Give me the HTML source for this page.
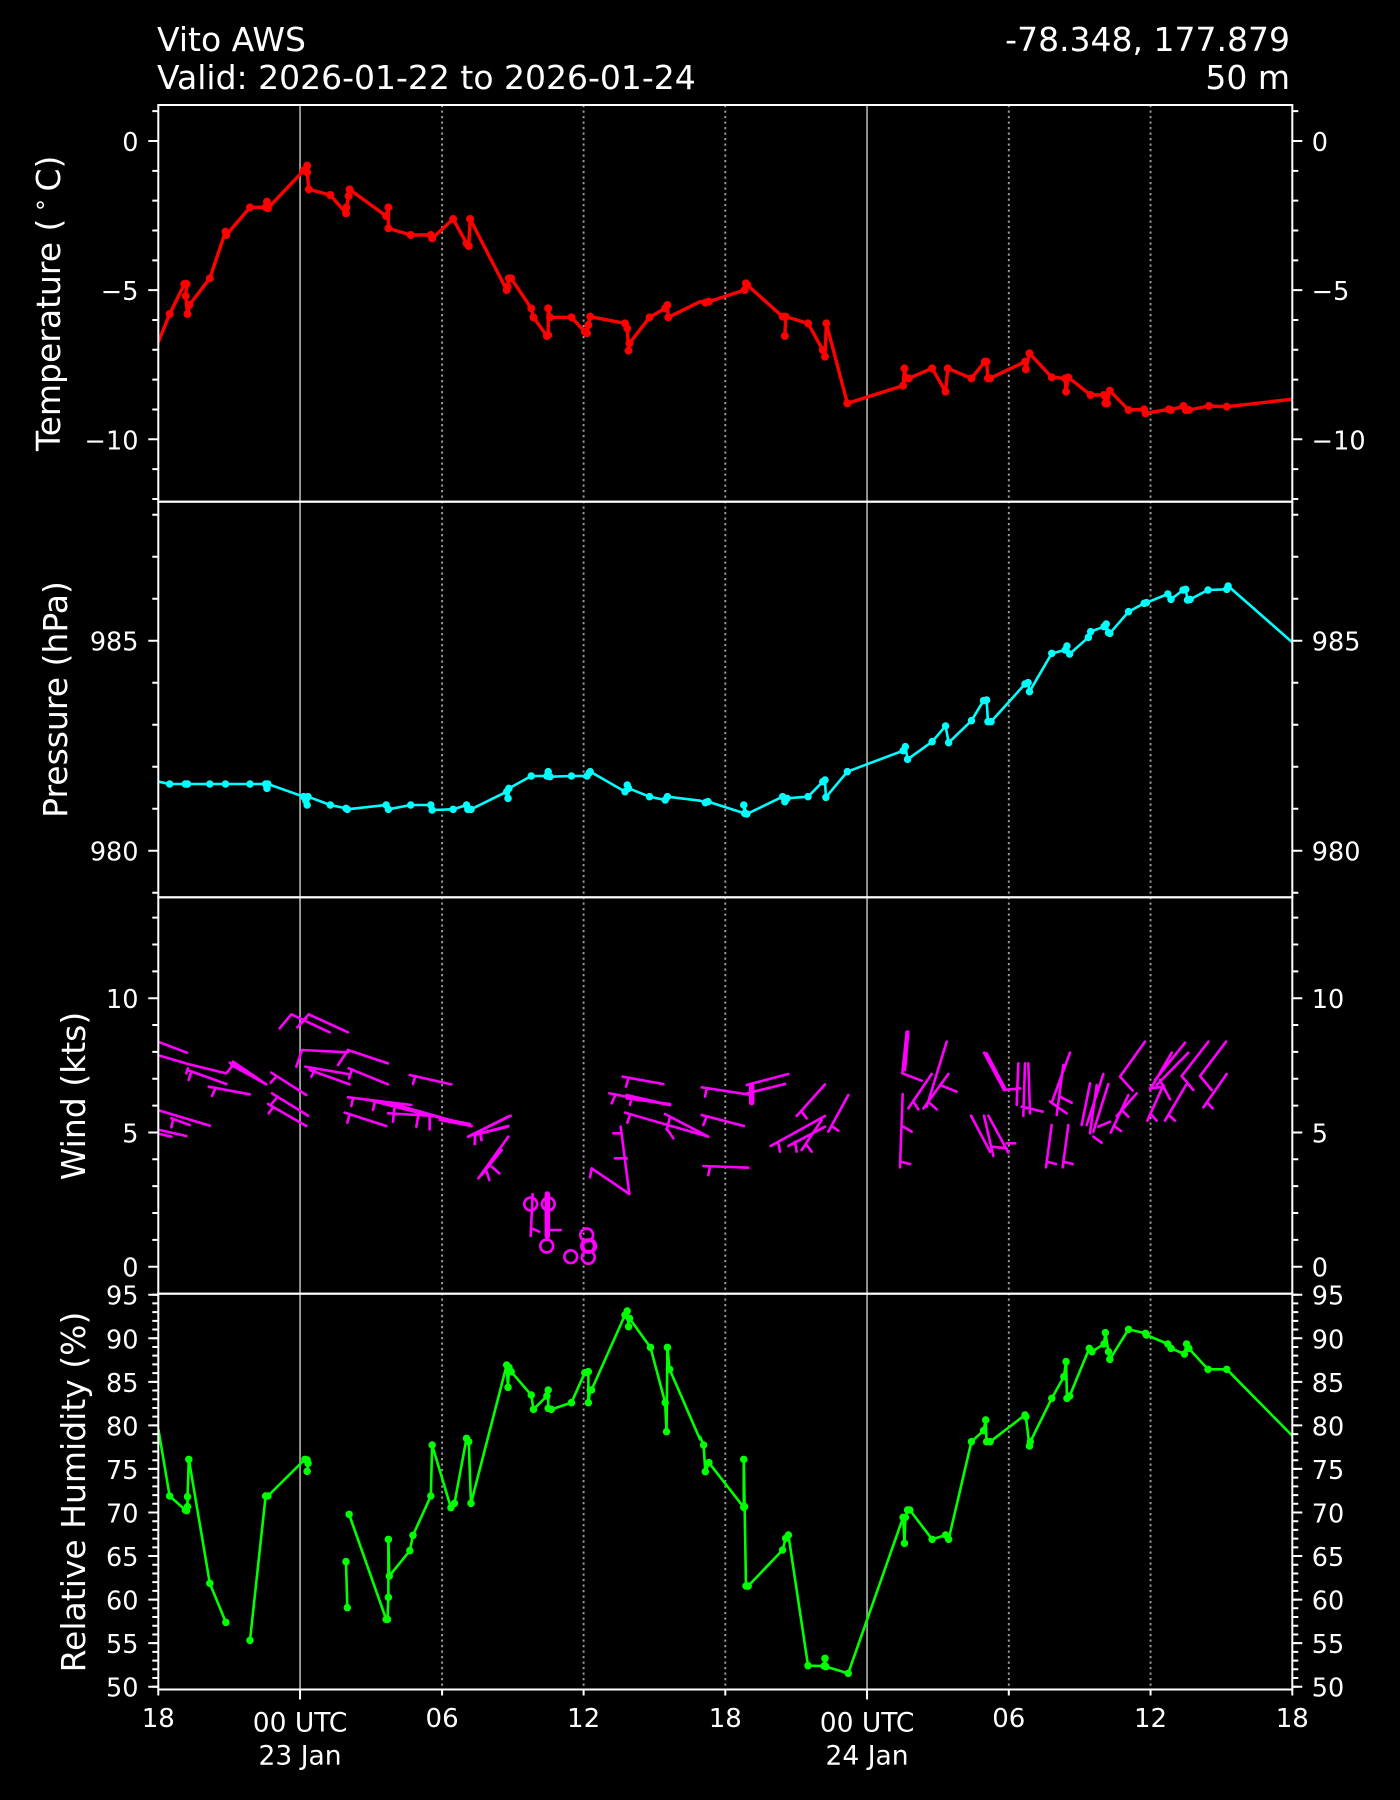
<!DOCTYPE html>
<html>
<head>
<meta charset="utf-8">
<style>
  html, body { margin: 0; padding: 0; background: #000; }
  svg { display: block; }
  text { font-family: "DejaVu Sans", "Liberation Sans", sans-serif; fill: #fff; }
  .ln { fill: none; vector-effect: non-scaling-stroke; stroke-linejoin: round; stroke-linecap: round; }
  .dot { fill: none; vector-effect: non-scaling-stroke; stroke-linecap: round; }
</style>
</head>
<body>
<svg width="1400" height="1800" viewBox="0 0 1400 1800" xmlns="http://www.w3.org/2000/svg">
  <rect x="0" y="0" width="1400" height="1800" fill="#000"/>
  <defs>
    <clipPath id="c1"><rect x="158.3" y="105" width="1134" height="396.7"/></clipPath>
    <clipPath id="c2"><rect x="158.3" y="501.7" width="1134" height="395.6"/></clipPath>
    <clipPath id="c3"><rect x="158.3" y="897.3" width="1134" height="396.4"/></clipPath>
    <clipPath id="c4"><rect x="158.3" y="1293.7" width="1134" height="395.8"/></clipPath>
  </defs>

  <!-- Titles -->
  <text x="157" y="51" font-size="33">Vito AWS</text>
  <text x="157" y="89" font-size="33">Valid: 2026-01-22 to 2026-01-24</text>
  <text x="1290" y="51" font-size="33" text-anchor="end">-78.348, 177.879</text>
  <text x="1290" y="89" font-size="33" text-anchor="end">50 m</text>

  <!-- Vertical grid lines -->
  <g stroke="#a0a0a0" stroke-width="1.8">
    <line x1="300.05" y1="105" x2="300.05" y2="1689.5"/>
    <line x1="867.05" y1="105" x2="867.05" y2="1689.5"/>
  </g>
  <g stroke="#999" stroke-width="1.9" stroke-dasharray="2.3 3.2">
    <line x1="442.1" y1="105" x2="442.1" y2="1689.5"/>
    <line x1="583.6" y1="105" x2="583.6" y2="1689.5"/>
    <line x1="725.3" y1="105" x2="725.3" y2="1689.5"/>
    <line x1="1008.8" y1="105" x2="1008.8" y2="1689.5"/>
    <line x1="1150.55" y1="105" x2="1150.55" y2="1689.5"/>
  </g>

  <!-- Temperature -->
  <g clip-path="url(#c1)">
    <g transform="translate(0,0) scale(0.446429,0.333333)">
      <polyline class="ln" stroke="#ff0000" stroke-width="3.4" points="355,1025 380,942 413,852 418,852 416,888 420,942 424,915 470,835 505,695 507,705 560,622 595,622 598,605 600,625 680,512 688,497 688,517 692,568 740,585 775,640 776,622 781,588 783,568 865,648 870,622 870,685 920,705 965,705 968,715 1015,657 1045,730 1050,738 1053,657 1135,870 1137,860 1140,835 1145,835 1190,925 1195,952 1225,1008 1228,1005 1228,925 1232,952 1280,952 1310,995 1315,1000 1318,975 1322,950 1400,970 1405,985 1408,1052 1410,1030 1455,952 1490,925 1495,915 1497,952 1568,905"/>
      <path class="dot" stroke="#ff0000" stroke-width="8" d="M380 942h0M413 852h0M418 852h0M416 888h0M420 942h0M424 915h0M470 835h0M505 695h0M507 705h0M560 622h0M595 622h0M598 605h0M600 625h0M680 512h0M688 497h0M688 517h0M692 568h0M740 585h0M775 640h0M776 622h0M781 588h0M783 568h0M865 648h0M870 622h0M870 685h0M920 705h0M965 705h0M968 715h0M1015 657h0M1045 730h0M1050 738h0M1053 657h0M1135 870h0M1137 860h0M1140 835h0M1145 835h0M1190 925h0M1195 952h0M1225 1008h0M1228 1005h0M1228 925h0M1232 952h0M1280 952h0M1310 995h0M1315 1000h0M1318 975h0M1322 950h0M1400 970h0M1405 985h0M1408 1052h0M1410 1030h0M1455 952h0M1490 925h0M1495 915h0M1497 952h0"/>
    </g>
    <g transform="translate(700,0) scale(0.446429,0.333333)">
      <polyline class="ln" stroke="#ff0000" stroke-width="3.4" points="0,905 12,908 20,905 100,870 103,850 106,855 185,950 192,950 190,1008 192,950 242,970 275,1050 280,1070 283,970 330,1210 455,1157 458,1105 462,1135 468,1135 520,1105 550,1175 555,1105 608,1135 638,1085 642,1085 645,1135 650,1135 728,1085 730,1108 738,1060 788,1132 818,1135 820,1175 825,1132 875,1185 905,1185 908,1210 912,1210 918,1172 960,1230 995,1228 998,1240 1050,1228 1055,1230 1083,1218 1088,1230 1095,1230 1140,1218 1180,1220 1325,1198"/>
      <path class="dot" stroke="#ff0000" stroke-width="8" d="M12 908h0M20 905h0M100 870h0M103 850h0M106 855h0M185 950h0M192 950h0M190 1008h0M242 970h0M275 1050h0M280 1070h0M283 970h0M330 1210h0M455 1157h0M458 1105h0M462 1135h0M468 1135h0M520 1105h0M550 1175h0M555 1105h0M608 1135h0M638 1085h0M642 1085h0M645 1135h0M650 1135h0M728 1085h0M730 1108h0M738 1060h0M788 1132h0M818 1135h0M820 1175h0M825 1132h0M875 1185h0M905 1185h0M908 1210h0M912 1210h0M918 1172h0M960 1230h0M995 1228h0M998 1240h0M1050 1228h0M1055 1230h0M1083 1218h0M1088 1230h0M1095 1230h0M1140 1218h0M1180 1220h0"/>
    </g>
  </g>

  <!-- Pressure -->
  <g clip-path="url(#c2)">
    <g transform="translate(0,480) scale(0.446429,0.333333)">
      <polyline class="ln" stroke="#00ffff" stroke-width="2.6" points="355,905 380,912 415,912 420,912 470,912 505,912 560,912 595,912 598,925 600,912 680,950 685,962 688,975 690,950 740,975 775,985 778,988 865,975 870,988 920,975 965,975 968,990 1015,988 1045,975 1048,988 1055,988 1135,935 1138,955 1140,925 1190,888 1225,888 1228,875 1232,890 1280,888 1315,888 1320,878 1322,875 1400,935 1405,915 1408,925 1455,950 1490,960 1495,950 1568,962"/>
      <path class="dot" stroke="#00ffff" stroke-width="7.5" d="M380 912h0M415 912h0M420 912h0M470 912h0M505 912h0M560 912h0M595 912h0M598 925h0M600 912h0M680 950h0M685 962h0M688 975h0M690 950h0M740 975h0M775 985h0M778 988h0M865 975h0M870 988h0M920 975h0M965 975h0M968 990h0M1015 988h0M1045 975h0M1048 988h0M1055 988h0M1135 935h0M1138 955h0M1140 925h0M1190 888h0M1225 888h0M1228 875h0M1232 890h0M1280 888h0M1315 888h0M1320 878h0M1322 875h0M1400 935h0M1405 915h0M1408 925h0M1455 950h0M1490 960h0M1495 950h0"/>
    </g>
    <g transform="translate(700,480) scale(0.446429,0.333333)">
      <polyline class="ln" stroke="#00ffff" stroke-width="2.6" points="0,962 12,968 18,965 100,1000 98,975 105,1002 185,950 190,965 195,955 242,950 275,905 280,900 282,952 330,875 455,812 460,800 465,838 520,785 550,738 557,788 608,722 635,662 642,660 645,725 652,725 728,612 735,608 738,635 788,520 818,510 822,498 828,522 870,472 875,455 905,440 910,432 915,458 918,460 960,395 995,370 1000,368 1048,342 1055,358 1082,330 1088,328 1092,360 1098,358 1138,330 1180,328 1183,318 1325,485"/>
      <path class="dot" stroke="#00ffff" stroke-width="7.5" d="M12 968h0M18 965h0M100 1000h0M98 975h0M105 1002h0M185 950h0M190 965h0M195 955h0M242 950h0M275 905h0M280 900h0M282 952h0M330 875h0M455 812h0M460 800h0M465 838h0M520 785h0M550 738h0M557 788h0M608 722h0M635 662h0M642 660h0M645 725h0M652 725h0M728 612h0M735 608h0M738 635h0M788 520h0M818 510h0M822 498h0M828 522h0M870 472h0M875 455h0M905 440h0M910 432h0M915 458h0M918 460h0M960 395h0M995 370h0M1000 368h0M1048 342h0M1055 358h0M1082 330h0M1088 328h0M1092 360h0M1098 358h0M1138 330h0M1180 328h0M1183 318h0"/>
    </g>
  </g>

  <!-- Wind -->
  <g clip-path="url(#c3)">
    <g transform="translate(158,990) scale(0.333333)">
      <path class="ln" stroke="#ff00ff" stroke-width="2.6" d="M5 157L87 188M5 197L90 222L205 250L225 225M215 218L325 283M225 215L325 283M220 225L320 280M88 240L205 282M100 245L92 270M90 235L85 250M152 290L275 313M172 295L162 318M340 248L445 315M355 260L338 278M342 310L450 377M355 325L342 340M330 342L445 408M345 352L332 370M5 362L155 407M40 385L95 405M45 390L40 412M5 420L85 438M5 432L40 440M365 115L400 73L515 127M418 112L452 73L570 127M430 100L445 85M415 230L432 180L570 187M570 180L690 220M540 225L570 180M442 230L570 252M455 240L575 283M470 240L460 260M572 235L690 283M582 238L573 265M755 255L880 283M772 258L765 282M570 322L760 345M585 325L580 348M632 330L820 378M650 338L645 360M690 370L830 378M700 340L940 408M710 345L705 395M815 375L940 408M815 378L815 418M780 380L775 410M560 368L685 408M575 372L568 398M930 440L1050 380M950 435L1050 410M952 430L950 462M968 432L970 450"/>
    </g>
    <g transform="translate(440,1040) scale(0.333333)">
      <path class="ln" stroke="#ff00ff" stroke-width="2.6" d="M0 240L95 258M0 235L90 252M85 290L212 227M100 285L205 258M105 285L105 312M120 280L125 300M115 415L205 290M140 395L148 420M155 380L178 400M125 405L185 330M278 462L272 588M275 565L298 575M330 570L362 570M548 110L670 132M565 115L558 140M508 160L688 195M560 165L690 195M560 175L690 192M525 168L515 190M575 170L570 195M555 218L805 290M570 225L562 248M675 222L805 290M690 230L680 270M680 265L700 295M785 142L935 165M800 145L795 170M920 135L1045 102M920 160L1035 132M785 225L912 258M800 230L790 255M790 378L925 383M810 380L805 405M542 260L568 462L455 385M455 385L450 412M520 280L545 280M525 355L560 355M1070 228L1155 133M1085 215L1100 235M1165 275L1225 165M1175 258L1195 272M992 318L1155 228M1045 318L1155 260M1085 330L1145 240M1015 310L1020 335M1065 305L1070 335M1100 315L1115 335"/>
      <path class="ln" stroke="#ff00ff" stroke-width="5.5" d="M322 462L322 588M935 138L935 188"/>
    </g>
    <g transform="translate(860,970) scale(0.333333)">
      <path class="ln" stroke="#ff00ff" stroke-width="2.6" d="M140 185L127 310L185 332M145 185L135 300M145 415L215 312M160 395L175 418M190 415L265 312M200 410L260 215M240 345L290 365M210 400L230 418M128 372L120 592M120 575L150 582M130 470L155 485M372 248L432 360L480 355M380 250L435 355M475 280L470 405M495 280L490 438M505 280L510 430M485 410L548 425M333 437L390 545M372 437L400 558M385 437L445 548M395 530L440 535M440 520L465 520M575 465L558 592M560 575L588 582M625 465L608 592M610 575L638 582M630 248L575 398M610 285L590 435M600 380L635 398M570 395L620 430M690 340L665 465M730 312L680 465M745 342L700 485M710 345L690 490M700 500L725 518M715 470L750 455M855 215L780 320L818 362M830 370L770 438M805 375L752 488M765 470L783 483M790 425L805 440M935 248L870 360M975 218L885 330M985 248L890 345M900 330L930 388M870 355L912 350M910 345L862 452M875 435L890 452M1045 215L965 318L1000 360M978 345L915 452M930 438L945 452M1098 215L1020 318L1055 360M1100 312L1030 412M1042 398L1058 415"/>
    </g>
    <g fill="none" stroke="#ff00ff" stroke-width="2.6">
      <circle cx="530.7" cy="1204" r="6.4"/>
      <circle cx="548.3" cy="1204" r="6.4"/>
      <circle cx="546.7" cy="1246" r="6.4"/>
      <circle cx="570.7" cy="1256.7" r="6.4"/>
      <circle cx="586.7" cy="1235" r="6.4"/>
      <circle cx="587.7" cy="1246" r="6.4"/>
      <circle cx="589.5" cy="1246" r="6.4"/>
      <circle cx="588.3" cy="1257.3" r="6.4"/>
    </g>
  </g>

  <!-- Relative Humidity -->
  <g clip-path="url(#c4)">
    <g transform="translate(0,1280) scale(0.446429,0.333333)">
      <polyline class="ln" stroke="#00ff00" stroke-width="2.6" points="355,450 380,648 415,690 418,692 420,680 420,650 423,538 470,910 506,1027"/>
      <polyline class="ln" stroke="#00ff00" stroke-width="2.6" points="560,1081 595,648 600,648 683,538 688,540 690,550 688,574"/>
      <polyline class="ln" stroke="#00ff00" stroke-width="2.6" points="775,845 778,983"/>
      <polyline class="ln" stroke="#00ff00" stroke-width="2.6" points="782,703 865,1018 868,1018 870,952 870,778 872,888 918,812 925,766 965,648 968,495 1010,683 1018,670 1045,475 1050,485 1055,670 1135,255 1138,322 1140,262 1145,275 1190,345 1195,388 1225,348 1228,330 1228,385 1235,388 1280,368 1310,278 1318,275 1318,368 1322,330 1325,330 1400,105 1405,93 1408,140 1410,115 1457,202 1490,368 1493,455 1495,202 1500,268 1568,478"/>
      <path class="dot" stroke="#00ff00" stroke-width="7.5" d="M380 648h0M415 690h0M418 692h0M420 680h0M420 650h0M423 538h0M470 910h0M506 1027h0M560 1081h0M595 648h0M600 648h0M683 538h0M688 540h0M690 550h0M688 574h0M775 845h0M778 983h0M782 703h0M865 1018h0M868 1018h0M870 952h0M870 778h0M872 888h0M918 812h0M925 766h0M965 648h0M968 495h0M1010 683h0M1018 670h0M1045 475h0M1050 485h0M1055 670h0M1135 255h0M1138 322h0M1140 262h0M1145 275h0M1190 345h0M1195 388h0M1225 348h0M1228 330h0M1228 385h0M1235 388h0M1280 368h0M1310 278h0M1318 275h0M1318 368h0M1322 330h0M1325 330h0M1400 105h0M1405 93h0M1408 140h0M1410 115h0M1457 202h0M1490 368h0M1493 455h0M1495 202h0M1500 268h0"/>
    </g>
    <g transform="translate(700,1280) scale(0.446429,0.333333)">
      <polyline class="ln" stroke="#00ff00" stroke-width="2.6" points="0,470 8,495 12,575 20,548 98,682 98,538 100,680 103,918 108,918 185,810 192,775 198,765 242,1157 278,1158 280,1135 282,1160 332,1180 455,712 458,790 460,712 465,690 470,690 520,778 550,765 557,778 608,485 635,452 640,420 642,485 650,485 728,405 730,410 738,498 740,485 788,355 815,290 820,245 822,355 828,348 872,205 878,215 905,192 908,158 915,215 918,238 960,148 998,160 1000,165 1048,192 1055,205 1085,222 1090,192 1095,205 1138,268 1180,268 1325,465"/>
      <path class="dot" stroke="#00ff00" stroke-width="7.5" d="M8 495h0M12 575h0M20 548h0M98 682h0M98 538h0M100 680h0M103 918h0M108 918h0M185 810h0M192 775h0M198 765h0M242 1157h0M278 1158h0M280 1135h0M282 1160h0M332 1180h0M455 712h0M458 790h0M460 712h0M465 690h0M470 690h0M520 778h0M550 765h0M557 778h0M608 485h0M635 452h0M640 420h0M642 485h0M650 485h0M728 405h0M730 410h0M738 498h0M740 485h0M788 355h0M815 290h0M820 245h0M822 355h0M828 348h0M872 205h0M878 215h0M905 192h0M908 158h0M915 215h0M918 238h0M960 148h0M998 160h0M1000 165h0M1048 192h0M1055 205h0M1085 222h0M1090 192h0M1095 205h0M1138 268h0M1180 268h0"/>
    </g>
  </g>

  <!-- Spines -->
  <g fill="none" stroke="#fff" stroke-width="2">
    <rect x="158.3" y="105" width="1134" height="396.7"/>
    <rect x="158.3" y="501.7" width="1134" height="395.6"/>
    <rect x="158.3" y="897.3" width="1134" height="396.4"/>
    <rect x="158.3" y="1293.7" width="1134" height="395.8"/>
  </g>

  <!-- Y ticks -->
  <g stroke="#fff" stroke-width="2" fill="none">
    <path d="M148.3 141H158.3M148.3 290.15H158.3M148.3 439.3H158.3M148.3 850.7H158.3M148.3 640.7H158.3M148.3 1266.7H158.3M148.3 1132.45H158.3M148.3 998.2H158.3M148.3 1686.7H158.3M148.3 1643.15H158.3M148.3 1599.59H158.3M148.3 1556.04H158.3M148.3 1512.48H158.3M148.3 1468.93H158.3M148.3 1425.37H158.3M148.3 1381.82H158.3M148.3 1338.26H158.3M148.3 1294.71H158.3"/>
    <path d="M1292.3 141H1302.3M1292.3 290.15H1302.3M1292.3 439.3H1302.3M1292.3 850.7H1302.3M1292.3 640.7H1302.3M1292.3 1266.7H1302.3M1292.3 1132.45H1302.3M1292.3 998.2H1302.3M1292.3 1686.7H1302.3M1292.3 1643.15H1302.3M1292.3 1599.59H1302.3M1292.3 1556.04H1302.3M1292.3 1512.48H1302.3M1292.3 1468.93H1302.3M1292.3 1425.37H1302.3M1292.3 1381.82H1302.3M1292.3 1338.26H1302.3M1292.3 1294.71H1302.3"/>
    <path d="M152.3 111.17H158.3M152.3 170.83H158.3M152.3 200.66H158.3M152.3 230.49H158.3M152.3 260.32H158.3M152.3 319.98H158.3M152.3 349.81H158.3M152.3 379.64H158.3M152.3 409.47H158.3M152.3 469.13H158.3M152.3 498.96H158.3M152.3 892.7H158.3M152.3 808.7H158.3M152.3 766.7H158.3M152.3 724.7H158.3M152.3 682.7H158.3M152.3 598.7H158.3M152.3 556.7H158.3M152.3 514.7H158.3M152.3 1239.85H158.3M152.3 1213H158.3M152.3 1186.15H158.3M152.3 1159.3H158.3M152.3 1105.6H158.3M152.3 1078.75H158.3M152.3 1051.9H158.3M152.3 1025.05H158.3M152.3 971.35H158.3M152.3 944.5H158.3M152.3 917.65H158.3"/>
    <path d="M1292.3 111.17H1298.3M1292.3 170.83H1298.3M1292.3 200.66H1298.3M1292.3 230.49H1298.3M1292.3 260.32H1298.3M1292.3 319.98H1298.3M1292.3 349.81H1298.3M1292.3 379.64H1298.3M1292.3 409.47H1298.3M1292.3 469.13H1298.3M1292.3 498.96H1298.3M1292.3 892.7H1298.3M1292.3 808.7H1298.3M1292.3 766.7H1298.3M1292.3 724.7H1298.3M1292.3 682.7H1298.3M1292.3 598.7H1298.3M1292.3 556.7H1298.3M1292.3 514.7H1298.3M1292.3 1239.85H1298.3M1292.3 1213H1298.3M1292.3 1186.15H1298.3M1292.3 1159.3H1298.3M1292.3 1105.6H1298.3M1292.3 1078.75H1298.3M1292.3 1051.9H1298.3M1292.3 1025.05H1298.3M1292.3 971.35H1298.3M1292.3 944.5H1298.3M1292.3 917.65H1298.3"/>
  </g>
  <line x1="155.3" y1="1293.71" x2="155.3" y2="1688.7" stroke="#fff" stroke-width="6" stroke-dasharray="2 6.711"/>
  <line x1="1295.3" y1="1293.71" x2="1295.3" y2="1688.7" stroke="#fff" stroke-width="6" stroke-dasharray="2 6.711"/>

  <!-- X ticks -->
  <g stroke="#fff" stroke-width="2">
    <path d="M300.05 1689.5V1699.5M867.05 1689.5V1699.5"/>
    <path d="M158.3 1689.5V1695.5M442.1 1689.5V1695.5M583.6 1689.5V1695.5M725.3 1689.5V1695.5M1008.8 1689.5V1695.5M1150.55 1689.5V1695.5M1292.3 1689.5V1695.5"/>
  </g>

  <!-- Y tick labels left -->
  <g font-size="25.5" text-anchor="end">
    <text x="138.5" y="151">0</text>
    <text x="138.5" y="300.15">−5</text>
    <text x="138.5" y="449.3">−10</text>
    <text x="138.5" y="650.7">985</text>
    <text x="138.5" y="860.7">980</text>
    <text x="138.5" y="1008.2">10</text>
    <text x="138.5" y="1142.45">5</text>
    <text x="138.5" y="1276.7">0</text>
    <text x="138.5" y="1304.7">95</text>
    <text x="138.5" y="1348.3">90</text>
    <text x="138.5" y="1391.8">85</text>
    <text x="138.5" y="1435.4">80</text>
    <text x="138.5" y="1478.9">75</text>
    <text x="138.5" y="1522.5">70</text>
    <text x="138.5" y="1566">65</text>
    <text x="138.5" y="1609.6">60</text>
    <text x="138.5" y="1653.2">55</text>
    <text x="138.5" y="1696.7">50</text>
  </g>
  <!-- Y tick labels right -->
  <g font-size="25.5" text-anchor="start">
    <text x="1311.8" y="151">0</text>
    <text x="1311.8" y="300.15">−5</text>
    <text x="1311.8" y="449.3">−10</text>
    <text x="1311.8" y="650.7">985</text>
    <text x="1311.8" y="860.7">980</text>
    <text x="1311.8" y="1008.2">10</text>
    <text x="1311.8" y="1142.45">5</text>
    <text x="1311.8" y="1276.7">0</text>
    <text x="1311.8" y="1304.7">95</text>
    <text x="1311.8" y="1348.3">90</text>
    <text x="1311.8" y="1391.8">85</text>
    <text x="1311.8" y="1435.4">80</text>
    <text x="1311.8" y="1478.9">75</text>
    <text x="1311.8" y="1522.5">70</text>
    <text x="1311.8" y="1566">65</text>
    <text x="1311.8" y="1609.6">60</text>
    <text x="1311.8" y="1653.2">55</text>
    <text x="1311.8" y="1696.7">50</text>
  </g>

  <!-- X tick labels -->
  <g font-size="26" text-anchor="middle">
    <text x="158.3" y="1727">18</text>
    <text x="442.1" y="1727">06</text>
    <text x="583.6" y="1727">12</text>
    <text x="725.3" y="1727">18</text>
    <text x="1008.8" y="1727">06</text>
    <text x="1150.55" y="1727">12</text>
    <text x="1292.3" y="1727">18</text>
  </g>
  <g font-size="26.5" text-anchor="middle">
    <text x="300.05" y="1731.5">00 UTC</text>
    <text x="300.05" y="1764.5">23 Jan</text>
    <text x="867.05" y="1731.5">00 UTC</text>
    <text x="867.05" y="1764.5">24 Jan</text>
  </g>

  <!-- Y axis labels -->
  <text x="60" y="303.3" font-size="33" text-anchor="middle" transform="rotate(-90 60 303.3)">Temperature (<tspan dx="6" dy="-12" font-size="24">∘</tspan><tspan dx="6" dy="12">C)</tspan></text>
  <text x="67" y="699.5" font-size="33" text-anchor="middle" transform="rotate(-90 67 699.5)">Pressure (hPa)</text>
  <text x="85" y="1096" font-size="33" text-anchor="middle" transform="rotate(-90 85 1096)">Wind (kts)</text>
  <text x="85" y="1492" font-size="33" text-anchor="middle" transform="rotate(-90 85 1492)">Relative Humidity (%)</text>
</svg>
</body>
</html>
